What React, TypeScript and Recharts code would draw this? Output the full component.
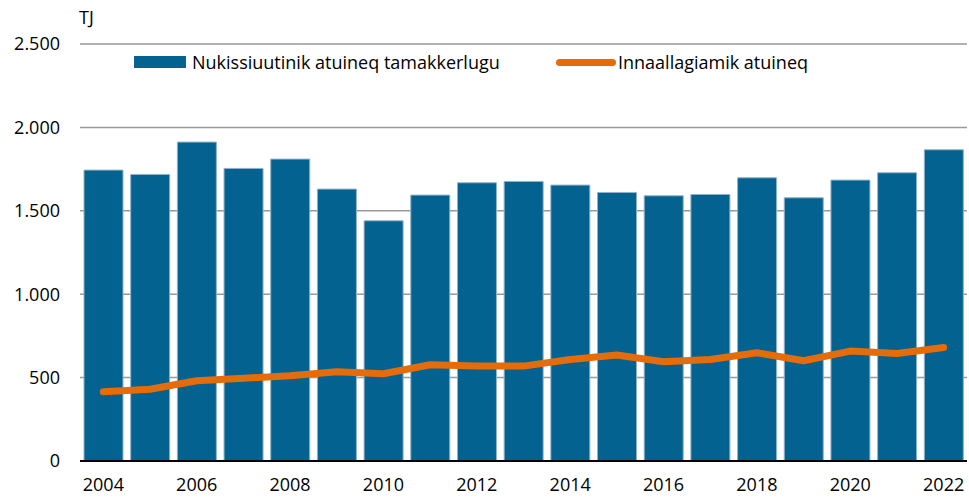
import { ComposedChart, Bar, Line, XAxis, YAxis, CartesianGrid } from "recharts";

const years = [
  "2004", "2005", "2006", "2007", "2008", "2009", "2010", "2011", "2012", "2013",
  "2014", "2015", "2016", "2017", "2018", "2019", "2020", "2021", "2022",
];
// total energy consumption (TJ)
const totalUse = [
  1744, 1718, 1912, 1754, 1810, 1630, 1440, 1594, 1668, 1676,
  1654, 1610, 1590, 1598, 1698, 1578, 1684, 1728, 1866,
];
// domestic consumption (TJ)
const domesticUse = [
  415, 430, 481, 496, 511, 535, 523, 577, 569, 569,
  609, 635, 595, 609, 649, 601, 659, 645, 681,
];
const yTicks = [0, 500, 1000, 1500, 2000, 2500];
const seriesNames = ["Nukissiuutinik atuineq tamakkerlugu", "Innaallagiamik atuineq"];
const unitLabel = "TJ";

const BLUE = "#03628f";
const ORANGE = "#e46c0a";
const FONT = "'Open Sans', 'Noto Sans', sans-serif";

const data = years.map((year, i) => ({
  year,
  total: totalUse[i],
  domestic: domesticUse[i],
}));

const fmt = (v: number) => String(v).replace(/\B(?=(\d{3})+(?!\d))/g, ".");

export default function App() {
  return (
    <div style={{ position: "fixed", left: 0, top: 0, width: 969, height: 498, background: "#fff", fontFamily: FONT }}>
      <ComposedChart
        width={969}
        height={498}
        data={data}
        margin={{ top: 44, right: 2, left: 0, bottom: 0 }}
      >
        <CartesianGrid vertical={false} stroke="#999" strokeWidth={1.5} />
        <XAxis
          dataKey="year"
          interval={1}
          height={37}
          tickLine={false}
          axisLine={{ stroke: "#000", strokeWidth: 2 }}
          tick={{ fill: "#000", fontSize: 18, fontFamily: FONT }}
          tickMargin={11}
        />
        <YAxis
          width={80}
          domain={[0, 2500]}
          ticks={yTicks}
          tickFormatter={fmt}
          axisLine={false}
          tickLine={false}
          tickMargin={14}
          tick={{ fill: "#000", fontSize: 18, fontFamily: FONT }}
        />
        <Bar
          dataKey="total"
          name={seriesNames[0]}
          fill={BLUE}
          stroke="#8fb3c9"
          strokeWidth={1}
          barSize={39}
          isAnimationActive={false}
        />
        <Line
          dataKey="domestic"
          name={seriesNames[1]}
          type="linear"
          stroke={ORANGE}
          strokeWidth={7}
          strokeLinecap="round"
          strokeLinejoin="round"
          dot={false}
          activeDot={false}
          isAnimationActive={false}
        />
      </ComposedChart>

      {/* unit label */}
      <div style={{ position: "absolute", left: 79, top: 5, fontSize: 18, color: "#000" }}>{unitLabel}</div>

      {/* legend */}
      <div style={{ position: "absolute", left: 134, top: 50, display: "flex", alignItems: "center", fontSize: 18, color: "#000" }}>
        <span style={{ width: 52, height: 12, background: BLUE, display: "inline-block", marginRight: 6 }} />
        <span>{seriesNames[0]}</span>
      </div>
      <div style={{ position: "absolute", left: 556, top: 50, display: "flex", alignItems: "center", fontSize: 18, color: "#000" }}>
        <span style={{ width: 60, height: 7, borderRadius: 4, background: ORANGE, display: "inline-block", marginRight: 2 }} />
        <span>{seriesNames[1]}</span>
      </div>
    </div>
  );
}
